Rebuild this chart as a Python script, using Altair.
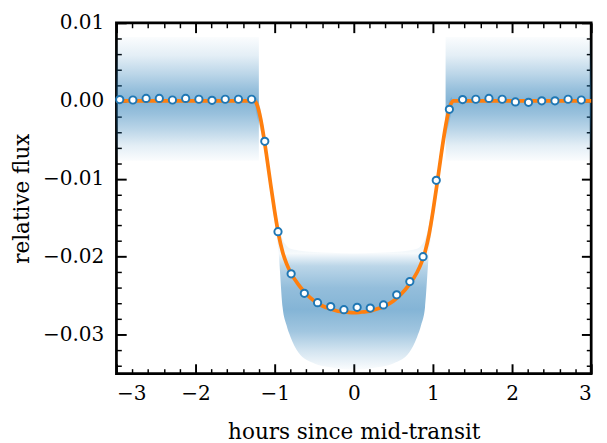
import pandas as pd
import altair as alt

# binned light curve (10 min bins)
bin_hours = [-2.958, -2.792, -2.625, -2.458, -2.292, -2.125, -1.958, -1.792, -1.625,
             -1.458, -1.292, -1.125, -0.958, -0.792, -0.625, -0.458, -0.292, -0.125,
             0.042, 0.208, 0.375, 0.542, 0.708, 0.875, 1.042, 1.208, 1.375, 1.542,
             1.708, 1.875, 2.042, 2.208, 2.375, 2.542, 2.708, 2.875]
bin_flux = [0.00015, 0.0001, 0.0003, 0.0003, 0.0001, 0.0003, 0.0002, 0.00006, 0.0002,
            0.0002, 0.0002, -0.0052, -0.0168, -0.0222, -0.0247, -0.0259, -0.0264, -0.0268,
            -0.0265, -0.0266, -0.0262, -0.0249, -0.0232, -0.0200, -0.0102, -0.0011, 0.00015,
            0.0002, 0.0003, 0.0002, -0.00015, -0.0002, 0.0, 0.0, 0.0002, 0.0001]

# transit model
model_hours = [-3.0, -1.26, -1.22, -1.18, -1.14, -1.1, -1.05, -1.0, -0.95, -0.9, -0.85,
               -0.8, -0.7, -0.6, -0.5, -0.4, -0.3, -0.2, -0.1, 0.0, 0.1, 0.2, 0.3, 0.4,
               0.5, 0.6, 0.7, 0.8, 0.85, 0.9, 0.95, 1.0, 1.05, 1.1, 1.14, 1.18, 1.22,
               1.26, 3.0]
model_flux = [0.0, 0.0, -0.0006, -0.0022, -0.0045, -0.0072, -0.0108, -0.0142, -0.0172,
              -0.0194, -0.0209, -0.0220, -0.0236, -0.0248, -0.0257, -0.0263, -0.0267,
              -0.0270, -0.0271, -0.0272, -0.0271, -0.0270, -0.0267, -0.0263, -0.0257,
              -0.0248, -0.0236, -0.0220, -0.0209, -0.0194, -0.0172, -0.0142, -0.0108,
              -0.0072, -0.0045, -0.0022, -0.0006, 0.0, 0.0]

# envelope of the individual (unbinned) samples
pre_hours = [-3.0, -1.2]
pre_hi = [0.0082, 0.0082]
pre_lo = [-0.0077, -0.0077]

post_hours = [1.16, 3.0]
post_hi = [0.0082, 0.0082]
post_lo = [-0.0077, -0.0077]

in_hours = [-1.24, -1.2, -1.15, -1.1, -1.05, -1.0, -0.95, -0.9, -0.85, -0.8, -0.7, -0.5,
            -0.3, 0.0, 0.3, 0.5, 0.7, 0.8, 0.85, 0.9, 0.95, 1.0, 1.05, 1.1, 1.15, 1.2, 1.24]
in_hi = [0.0005, -0.0002, -0.0028, -0.0062, -0.0098, -0.0132, -0.0160, -0.0178, -0.0186,
         -0.0190, -0.0192, -0.0194, -0.0195, -0.0196, -0.0195, -0.0194, -0.0192, -0.0190,
         -0.0186, -0.0178, -0.0160, -0.0132, -0.0098, -0.0062, -0.0028, -0.0002, 0.0005]
in_lo = [-0.0012, -0.0030, -0.0050, -0.0084, -0.0120, -0.0155, -0.0195, -0.0265, -0.0288,
         -0.0303, -0.0323, -0.0337, -0.0342, -0.0345, -0.0342, -0.0337, -0.0323, -0.0303,
         -0.0288, -0.0265, -0.0195, -0.0155, -0.0120, -0.0084, -0.0050, -0.0030, -0.0012]

x_major = [-3, -2, -1, 0, 1, 2, 3]
x_minor = [-2.8, -2.6, -2.4, -2.2, -1.8, -1.6, -1.4, -1.2, -0.8, -0.6, -0.4, -0.2,
           0.2, 0.4, 0.6, 0.8, 1.2, 1.4, 1.6, 1.8, 2.2, 2.4, 2.6, 2.8]
y_major = [-0.03, -0.02, -0.01, 0.0, 0.01]
y_minor = [-0.034, -0.032, -0.028, -0.026, -0.024, -0.022, -0.018, -0.016, -0.014,
           -0.012, -0.008, -0.006, -0.004, -0.002, 0.002, 0.004, 0.006, 0.008]

BLUE = "#1f77b4"
ORANGE = "#ff7f0e"
FONT = "DejaVu Serif"


def blue(a):
    return f"rgba(31,119,180,{a})"


def vgrad(stops):
    return alt.LinearGradient(
        gradient="linear", x1=0, x2=0, y1=0, y2=1,
        stops=[alt.GradientStop(offset=o, color=blue(a)) for o, a in stops],
    )


flat_fill = vgrad([(0, 0.02), (0.15, 0.12), (0.3, 0.3), (0.42, 0.46), (0.52, 0.55),
                   (0.62, 0.46), (0.75, 0.3), (0.88, 0.12), (1, 0.02)])
dip_fill = vgrad([(0, 0.2), (0.45, 0.2), (0.574, 0.04), (0.62, 0.3), (0.7, 0.48),
                  (0.78, 0.55), (0.86, 0.42), (0.93, 0.2), (1, 0.02)])

xs = alt.Scale(domain=[-3, 3], nice=False, zero=False)
ys = alt.Scale(domain=[-0.035, 0.01], nice=False, zero=False)


def major_axis(orient, values, fmt=None, labels=True):
    kw = dict(orient=orient, values=values, offset=-10, tickSize=10, tickWidth=2,
              labels=labels, labelFont=FONT, labelFontSize=20.5,
              labelPadding=11 if orient == "bottom" else 13,
              titlePadding=18 if orient == "bottom" else 9)
    if fmt:
        kw["format"] = fmt
    return alt.Axis(**kw)


def minor_axis(orient, values):
    return alt.Axis(orient=orient, values=values, offset=-5, tickSize=5, tickWidth=1.5,
                    labels=False)


pre = pd.DataFrame({"hours": pre_hours, "hi": pre_hi, "lo": pre_lo})
post = pd.DataFrame({"hours": post_hours, "hi": post_hi, "lo": post_lo})
dip = pd.DataFrame({"hours": in_hours, "hi": in_hi, "lo": in_lo})
model = pd.DataFrame({"hours": model_hours, "flux": model_flux})
bins = pd.DataFrame({"hours": bin_hours, "flux": bin_flux})

pre_band = alt.Chart(pre).mark_area(color=flat_fill).encode(
    x=alt.X("hours:Q", scale=xs, title="hours since mid-transit",
            axis=major_axis("bottom", x_major, "d")),
    y=alt.Y("hi:Q", scale=ys, title="relative flux",
            axis=major_axis("left", y_major, ".2f")),
    y2="lo:Q",
)

post_band = alt.Chart(post).mark_area(color=flat_fill).encode(
    x=alt.X("hours:Q", scale=xs, title=None, axis=minor_axis("bottom", x_minor)),
    y=alt.Y("hi:Q", scale=ys, title=None, axis=minor_axis("left", y_minor)),
    y2="lo:Q",
)

dip_band = alt.Chart(dip).mark_area(color=dip_fill, interpolate="monotone").encode(
    x=alt.X("hours:Q", scale=xs, title=None, axis=major_axis("top", x_major, labels=False)),
    y=alt.Y("hi:Q", scale=ys, title=None, axis=major_axis("right", y_major, labels=False)),
    y2="lo:Q",
)

line = alt.Chart(model).mark_line(color=ORANGE, strokeWidth=3.8, interpolate="monotone").encode(
    x=alt.X("hours:Q", scale=xs, title=None, axis=minor_axis("top", x_minor)),
    y=alt.Y("flux:Q", scale=ys, title=None, axis=minor_axis("right", y_minor)),
)

points = alt.Chart(bins).mark_point(shape="circle", filled=True, fill="white", stroke=BLUE,
                                     strokeWidth=2, size=55, opacity=1).encode(
    x=alt.X("hours:Q", scale=xs, axis=None),
    y=alt.Y("flux:Q", scale=ys, axis=None),
)

chart = alt.layer(pre_band, post_band, dip_band, line, points).resolve_axis(
    x="independent", y="independent"
).properties(
    width=486, height=359,
    padding={"left": 3, "top": 0, "right": 0, "bottom": 0},
).configure_view(
    stroke="black", strokeWidth=2.8
).configure_axis(
    domain=False, grid=False, tickColor="black", labelColor="black", zindex=1,
    titleFont=FONT, titleFontSize=22, titleFontWeight="normal", titleColor="black"
)

chart.save("out.html", embed_options={"renderer": "svg", "actions": False})
